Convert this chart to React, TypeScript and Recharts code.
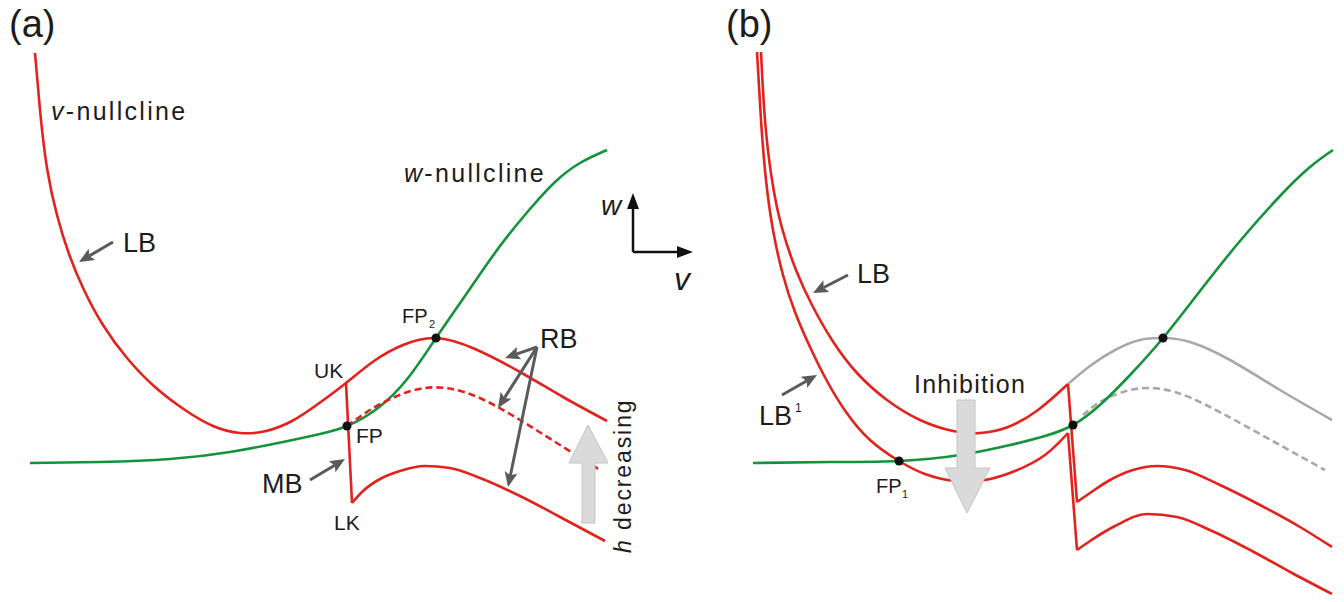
import { ComposedChart, Line, Scatter, XAxis, YAxis } from 'recharts';

// phase-plane sketch, coordinates are in picture units (v to the right, w downward)
type Pt = { v: number; w: number };
const pts = (a: number[][]): Pt[] => a.map(([v, w]) => ({ v, w }));

const RED = '#e2231d';
const GREEN = '#14923c';
const GREY = '#a8a8a8';
const DARK = '#5a5a5a';
const INK = '#1c1c1c';

// panel (a)
const vNullA = [[35, 53], [40, 110], [47, 168], [57, 215], [69, 254], [84, 290], [103, 325], [127, 358], [155, 387], [185, 410], [213, 426], [240, 433], [266, 431], [292, 421], [318, 404], [346, 383], [374, 361], [403, 345], [436, 338], [475, 349], [520, 372], [563, 397], [607, 421]];
const middleA = [[346, 383], [352, 503]];
const lowerA = [[352, 503], [363, 491], [380, 479], [400, 471], [425, 466], [450, 468], [480, 478], [520, 496], [560, 517], [605, 541]];
const dashedA = [[347, 426], [370, 410], [397, 396], [425, 388], [452, 389], [482, 399], [520, 420], [560, 445], [600, 470]];
const wNullA = [[30, 463], [100, 462], [170, 459], [230, 452], [283, 442], [320, 434], [347, 426], [378, 408], [408, 378], [436, 338], [467, 293], [500, 246], [530, 209], [555, 182], [580, 163], [607, 150]];
const fixedA = [[347, 426], [436, 338]];

// panel (b)
const lbB = [[761, 52], [765, 120], [772, 180], [782, 228], [796, 270], [812, 305], [832, 340], [857, 373], [887, 400], [920, 420], [953, 431], [980, 433], [1008, 427], [1038, 410], [1068, 384]];
const lb1B = [[757, 52], [761, 120], [766, 180], [773, 230], [783, 275], [795, 312], [810, 347], [827, 381], [846, 412], [870, 440], [899, 461], [925, 474], [955, 481], [985, 480], [1015, 471], [1045, 455], [1068, 433]];
const dropB1 = [[1068, 384], [1077, 502]];
const dropB2 = [[1068, 433], [1077, 550]];
const lowerB1 = [[1077, 502], [1090, 493], [1110, 480], [1133, 470], [1157, 466], [1185, 470], [1220, 485], [1260, 505], [1300, 527], [1332, 547]];
const lowerB2 = [[1077, 550], [1090, 541], [1115, 526], [1147, 514], [1177, 517], [1212, 531], [1252, 551], [1292, 573], [1332, 594]];
const greyB = [[1068, 384], [1090, 366], [1115, 350], [1140, 340], [1163, 338], [1190, 342], [1230, 360], [1280, 390], [1332, 420]];
const greyDashB = [[1083, 415], [1100, 402], [1123, 392], [1147, 388], [1175, 392], [1210, 407], [1260, 434], [1325, 470]];
const wNullB = [[753, 463], [830, 462], [899, 461], [960, 455], [1010, 445], [1045, 436], [1073, 425], [1101, 404], [1131, 374], [1163, 338], [1200, 291], [1240, 241], [1280, 196], [1310, 167], [1333, 150]];
const fixedB = [[899, 461], [1073, 425], [1163, 338]];

// pointer arrows: tail -> tip
const pointers = [
  [113, 242, 79, 262],
  [310, 480, 345, 459],
  [537, 347, 505, 358],
  [537, 347, 498, 408],
  [537, 347, 508, 487],
  [848, 275, 813, 293],
  [782, 395, 817, 375],
];

const curve = (d: number[][], color: string, key: string, opts: { dash?: string; type?: 'natural' | 'monotone' | 'linear'; width?: number } = {}) => (
  <Line
    key={key}
    data={pts(d)}
    dataKey="w"
    type={opts.type ?? 'natural'}
    stroke={color}
    strokeWidth={opts.width ?? 2.6}
    strokeDasharray={opts.dash}
    dot={false}
    activeDot={false}
    isAnimationActive={false}
  />
);

const Arrow = ({ t }: { t: number[] }) => {
  const [x1, y1, x2, y2] = t;
  const dx = x2 - x1, dy = y2 - y1;
  const len = Math.hypot(dx, dy);
  const ux = dx / len, uy = dy / len;
  const L = 15, H = 6.5;
  const bx = x2 - ux * L, by = y2 - uy * L;
  return (
    <g>
      <line x1={x1} y1={y1} x2={bx + ux * 3} y2={by + uy * 3} stroke={DARK} strokeWidth={3} />
      <polygon points={`${x2},${y2} ${bx - uy * H},${by + ux * H} ${bx + ux * 3},${by + uy * 3} ${bx + uy * H},${by - ux * H}`} fill={DARK} />
    </g>
  );
};

const font = '"Liberation Sans", Arial, sans-serif';

export default function App() {
  return (
    <div style={{ position: 'absolute', left: 0, top: 0, width: 1344, height: 602, background: '#fff' }}>
      <ComposedChart width={1344} height={602} margin={{ top: 0, right: 0, bottom: 0, left: 0 }}>
        <XAxis type="number" dataKey="v" domain={[0, 1344]} hide allowDataOverflow />
        <YAxis type="number" dataKey="w" domain={[0, 602]} reversed hide allowDataOverflow />
        {curve(wNullA, GREEN, 'wa')}
        {curve(vNullA, RED, 'va')}
        {curve(middleA, RED, 'ma', { type: 'linear' })}
        {curve(lowerA, RED, 'la', { type: 'monotone' })}
        {curve(dashedA, RED, 'da', { dash: '7 4' })}
        {curve(greyB, GREY, 'gb')}
        {curve(greyDashB, GREY, 'gdb', { dash: '7 4' })}
        {curve(wNullB, GREEN, 'wb')}
        {curve(lbB, RED, 'lbb')}
        {curve(lb1B, RED, 'lb1b')}
        {curve(dropB1, RED, 'db1', { type: 'linear' })}
        {curve(dropB2, RED, 'db2', { type: 'linear' })}
        {curve(lowerB1, RED, 'lb1', { type: 'monotone' })}
        {curve(lowerB2, RED, 'lb2', { type: 'monotone' })}
        <Scatter
          data={pts([...fixedA, ...fixedB])}
          dataKey="w"
          isAnimationActive={false}
          shape={(p: any) => <circle cx={p.cx} cy={p.cy} r={4.5} fill="#111" />}
        />
      </ComposedChart>
      <svg width={1344} height={602} style={{ position: 'absolute', left: 0, top: 0, pointerEvents: 'none' }} fontFamily={font} fill={INK}>
        {/* block arrows */}
        <polygon points="582,523 595,523 595,463 608,463 588,425 569,463 582,463" fill="#dadada" stroke="#c4c4c4" strokeWidth={1} />
        <polygon points="957,400 975,400 975,468 990,468 967,513 945,468 957,468" fill="#dadada" stroke="#c4c4c4" strokeWidth={1} />
        {pointers.map((t, i) => <Arrow key={i} t={t} />)}
        {/* w / v axes */}
        <line x1={633} y1={252} x2={633} y2={205} stroke="#111" strokeWidth={2.5} />
        <polygon points="633,193 627,209 639,209" fill="#111" />
        <line x1={633} y1={252} x2={681} y2={252} stroke="#111" strokeWidth={2.5} />
        <polygon points="693,252 677,246 677,258" fill="#111" />
        <text x={601} y={215} fontSize={28} fontStyle="italic">w</text>
        <text x={674} y={290} fontSize={32} fontStyle="italic">v</text>

        <text x={9} y={37} fontSize={38}>(a)</text>
        <text x={726} y={37} fontSize={38}>(b)</text>
        <text x={51} y={120} fontSize={25} letterSpacing={2.3}><tspan fontStyle="italic">v</tspan>-nullcline</text>
        <text x={404} y={182} fontSize={25} letterSpacing={2.3}><tspan fontStyle="italic">w</tspan>-nullcline</text>
        <text x={123} y={252} fontSize={27}>LB</text>
        <text x={314} y={378} fontSize={21}>UK</text>
        <text x={402} y={323} fontSize={20}>FP</text>
        <text x={429} y={328} fontSize={11}>2</text>
        <text x={356} y={443} fontSize={21}>FP</text>
        <text x={262} y={493} fontSize={27}>MB</text>
        <text x={334} y={530} fontSize={21}>LK</text>
        <text x={540} y={348} fontSize={27}>RB</text>
        <text x={631} y={553} fontSize={23} letterSpacing={1.9} transform="rotate(-90 631 553)"><tspan fontStyle="italic">h</tspan> decreasing</text>

        <text x={857} y={283} fontSize={27}>LB</text>
        <text x={759} y={425} fontSize={27}>LB</text>
        <text x={795} y={412} fontSize={12}>1</text>
        <text x={914} y={393} fontSize={25} letterSpacing={1.2}>Inhibition</text>
        <text x={876} y={493} fontSize={20}>FP</text>
        <text x={902} y={498} fontSize={11}>1</text>
      </svg>
    </div>
  );
}
